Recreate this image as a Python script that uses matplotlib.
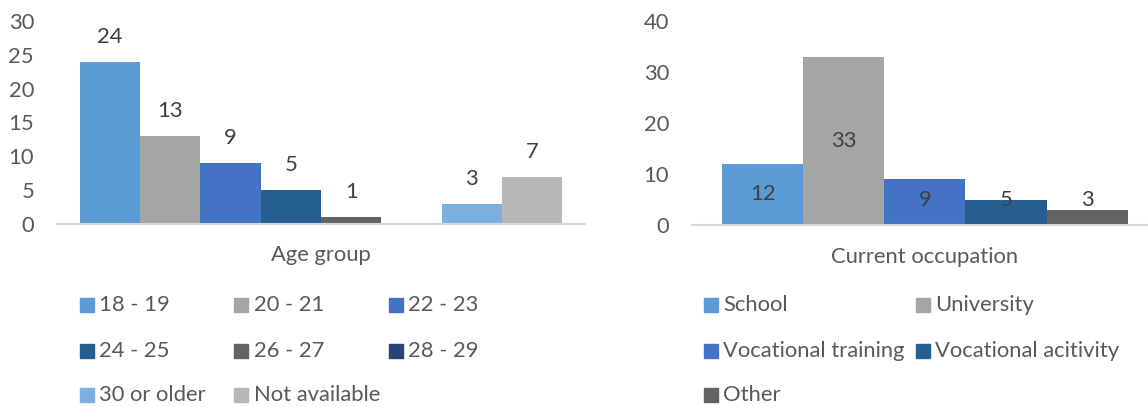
import matplotlib
matplotlib.use("Agg")
import matplotlib.pyplot as plt
from matplotlib.patches import Rectangle

# data
age_groups = ["18 - 19", "20 - 21", "22 - 23", "24 - 25", "26 - 27", "28 - 29",
              "30 or older", "Not available"]
age_counts = [24, 13, 9, 5, 1, 0, 3, 7]
age_colors = ["#5B9BD5", "#A5A5A5", "#4472C4", "#255E91", "#636363", "#264478",
              "#7CAFDD", "#B7B7B7"]

occupations = ["School", "University", "Vocational training", "Vocational acitivity", "Other"]
occ_counts = [12, 33, 9, 5, 3]
occ_colors = ["#5B9BD5", "#A5A5A5", "#4472C4", "#255E91", "#636363"]

plt.rcParams['font.family'] = ['Lato', 'DejaVu Sans']
W, H = 1148, 407
fig = plt.figure(figsize=(W / 100, H / 100), dpi=100)

TICK_COL = "#595959"
LABEL_COL = "#404040"
FS = 15.8


def px(x0, y0, x1, y1):
    # pixel box (top-left origin) -> figure fraction rect
    return [x0 / W, 1 - y1 / H, (x1 - x0) / W, (y1 - y0) / H]


def style_axis(ax, ymax, step):
    ax.set_ylim(0, ymax)
    ax.set_yticks(range(0, ymax + 1, step))
    ax.set_xticks([])
    for s in ["top", "right", "left"]:
        ax.spines[s].set_visible(False)
    ax.spines["bottom"].set_color("#D9D9D9")
    ax.spines["bottom"].set_linewidth(1.5)
    ax.tick_params(axis="y", length=0, pad=16.5, labelsize=FS, labelcolor=TICK_COL)
    ax.set_facecolor("none")


# left chart: age group
ax1 = fig.add_axes(px(57, 21, 585, 224))
ax1.bar(range(len(age_counts)), age_counts, width=1.0, color=age_colors)
ax1.set_xlim(-0.88, len(age_counts) - 0.5 + 0.38)
style_axis(ax1, 30, 5)
for i, v in enumerate(age_counts):
    if v == 0:
        continue
    ax1.annotate(str(v), (i, v), xytext=(0, 18), textcoords="offset points",
                 ha="center", va="center", fontsize=FS, color=LABEL_COL)
ax1.text(0.5, -0.155, "Age group", transform=ax1.transAxes, ha="center", va="center",
         fontsize=FS, color=TICK_COL)

# right chart: current occupation
ax2 = fig.add_axes(px(692, 21, 1148, 225))
ax2.bar(range(len(occ_counts)), occ_counts, width=1.0, color=occ_colors)
ax2.set_xlim(-0.87, 4.75)
style_axis(ax2, 40, 10)
for i, v in enumerate(occ_counts):
    ax2.text(i, max(v / 2, 4.9), str(v), ha="center", va="center",
             fontsize=FS, color=LABEL_COL)
ax2.text((2 + 0.87) / 5.62, -0.155, "Current occupation", transform=ax2.transAxes,
         ha="center", va="center", fontsize=FS, color=TICK_COL)


# legends laid out in Excel style grid
def draw_legend(labels, colors, x0, col_w, ncol):
    rows_y = [305, 351, 395]
    for k, (lab, col) in enumerate(zip(labels, colors)):
        r, c = divmod(k, ncol)
        x = x0 + c * col_w
        y = rows_y[r]
        fig.patches.append(Rectangle((x / W, 1 - (y + 7) / H), 14 / W, 14 / H,
                                     transform=fig.transFigure, color=col))
        fig.text((x + 19) / W, 1 - y / H, lab, ha="left", va="center",
                 fontsize=FS, color=TICK_COL)


draw_legend(age_groups, age_colors, 80, 154.5, 3)
draw_legend(occupations, occ_colors, 704, 212, 2)

fig.savefig("out.png", dpi=100)
